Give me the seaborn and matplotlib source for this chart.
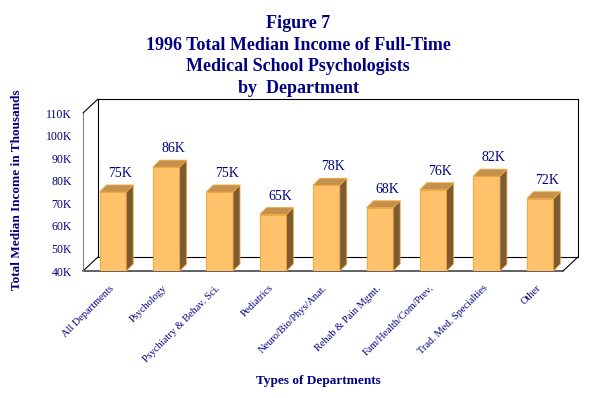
import matplotlib
matplotlib.use("Agg")
import matplotlib.pyplot as plt
from matplotlib.patches import Polygon
from matplotlib.transforms import ScaledTranslation
import seaborn as sns
import pandas as pd

departments = ["All Departments", "Psychology", "Psychiatry & Behav. Sci.", "Pediatrics",
               "Neuro/Bio/Phys/Anat.", "Rehab & Pain Mgmt.", "Fam/Health/Com/Prev.",
               "Trad. Med. Specialties", "Other"]
income = [75, 86, 75, 65, 78, 68, 76, 82, 72]
yticks = [40, 50, 60, 70, 80, 90, 100, 110]

sns.set_theme(style="white")
plt.rcParams["font.family"] = ["Liberation Serif", "DejaVu Serif"]

navy = "#000080"
front = "#FFC26B"
top = "#C58F4C"
side = "#7B5A34"
edge = "#F2A93B"

df = pd.DataFrame({"dept": departments, "income": income})

fig = plt.figure(figsize=(5.98, 3.98), dpi=100)
ax = fig.add_axes([83 / 598, (398 - 271) / 398, 480 / 598, 158 / 398])

sns.barplot(df, x="dept", y="income", color=front, saturation=1, width=0.5,
            edgecolor=edge, linewidth=0.8, ax=ax, zorder=3)

x0, x1 = -0.56, 8.43
y0, y1 = 40, 110
ax.set_xlim(x0, x1)
ax.set_ylim(y0, y1)
for s in ax.spines.values():
    s.set_visible(False)

# pseudo 3D box
ddx, ddy = 0.281, 6.2
box = dict(color="black", lw=0.8, clip_on=False, zorder=1)
ax.plot([x0, x1], [y0, y0], color="#444444", lw=1.2, clip_on=False, zorder=1)
ax.plot([x0 + ddx, x1 + ddx], [y0 + ddy, y0 + ddy], **box)
ax.plot([x0, x0 + ddx], [y0, y0 + ddy], **box)
ax.plot([x1, x1 + ddx], [y0, y0 + ddy], **box)
ax.plot([x0, x0], [y0, y1], color="#888888", lw=0.8, clip_on=False, zorder=1)
ax.plot([x0, x0 + ddx], [y1, y1 + ddy], **box)
ax.plot([x0 + ddx, x0 + ddx], [y0 + ddy, y1 + ddy], **box)
ax.plot([x0 + ddx, x1 + ddx], [y1 + ddy, y1 + ddy], **box)
ax.plot([x1 + ddx, x1 + ddx], [y0 + ddy, y1 + ddy], **box)

# bar side / top faces and labels
bw = 0.5
bx, by = 0.13, 3.1
for i, v in enumerate(income):
    l, r = i - bw / 2, i + bw / 2
    ax.add_patch(Polygon([(r, y0), (r + bx, y0 + by), (r + bx, v + by), (r, v)],
                         closed=True, fc=side, ec=edge, lw=0.6, zorder=3, clip_on=False))
    ax.add_patch(Polygon([(l, v), (l + bx, v + by), (r + bx, v + by), (r, v)],
                         closed=True, fc=top, ec=edge, lw=0.6, zorder=3, clip_on=False))
    ax.text(i + 0.13, v + by + 2.2, f"{v}K", ha="center", va="bottom",
            fontsize=10, color=navy)

ax.set_yticks(yticks)
ax.set_yticklabels([f"{t}K" for t in yticks], fontsize=8.5, color=navy)
ax.tick_params(axis="y", length=0, pad=8)
ax.set_xticks(range(len(departments)))
ax.set_xticklabels(departments, rotation=45, ha="right", va="top",
                   rotation_mode="anchor", fontsize=7.5, color=navy)
ax.tick_params(axis="x", length=0, pad=9)
shift = ScaledTranslation(-4 / 100, 0, fig.dpi_scale_trans)
for lab in ax.get_xticklabels():
    lab.set_transform(lab.get_transform() + shift)
ax.set_xlabel("")
ax.set_ylabel("")

fig.text(17 / 598, 1 - 190 / 398, "Total Median Income in Thousands", rotation=90,
         ha="center", va="center", fontsize=9.5, fontweight="bold", color=navy)
fig.text(318 / 598, 1 - 381 / 398, "Types of Departments", ha="center", va="center",
         fontsize=9.5, fontweight="bold", color=navy)
fig.text(298 / 598, 1 - 56 / 398,
         "Figure 7\n1996 Total Median Income of Full-Time\nMedical School Psychologists\nby  Department",
         ha="center", va="center", fontsize=13, fontweight="bold", color=navy,
         linespacing=1.35)

fig.savefig("out.png", dpi=100, facecolor="white")
